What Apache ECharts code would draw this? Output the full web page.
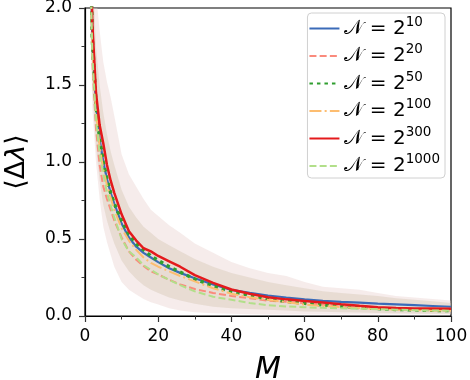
<!DOCTYPE html>
<html>
<head>
<meta charset="utf-8">
<script src="https://cdn.jsdelivr.net/npm/echarts@6/dist/echarts.min.js"></script>
<style>html,body{margin:0;padding:0;background:#fff;}#c{width:470px;height:380px;}</style>
</head>
<body>
<div id="c"></div>
<script>
// M values (x)
var M = [1, 2, 3, 4, 5, 6, 7, 8, 10, 12, 14, 16, 18, 20, 23, 26, 30, 35, 40, 45, 50, 55, 60, 65, 70, 75, 80, 85, 90, 95, 100];
// <Δλ> for each N
var n10   = [3.0, 1.80, 1.38, 1.15, 1.00, 0.89, 0.80, 0.73, 0.60, 0.51, 0.45, 0.41, 0.38, 0.35, 0.31, 0.28, 0.245, 0.205, 0.170, 0.150, 0.133, 0.120, 0.108, 0.098, 0.092, 0.087, 0.080, 0.075, 0.070, 0.065, 0.060];
var n20   = [2.9, 1.65, 1.22, 0.98, 0.84, 0.76, 0.69, 0.62, 0.51, 0.42, 0.365, 0.325, 0.29, 0.27, 0.235, 0.205, 0.175, 0.150, 0.130, 0.115, 0.100, 0.092, 0.083, 0.073, 0.063, 0.055, 0.048, 0.043, 0.040, 0.037, 0.034];
var n50   = [3.0, 1.80, 1.38, 1.15, 1.00, 0.89, 0.80, 0.73, 0.62, 0.53, 0.47, 0.43, 0.39, 0.36, 0.32, 0.285, 0.240, 0.195, 0.160, 0.135, 0.112, 0.095, 0.082, 0.072, 0.063, 0.055, 0.048, 0.043, 0.040, 0.037, 0.035];
var n100  = [2.9, 1.75, 1.33, 1.10, 0.95, 0.85, 0.77, 0.69, 0.57, 0.49, 0.43, 0.38, 0.345, 0.32, 0.29, 0.26, 0.225, 0.180, 0.145, 0.122, 0.105, 0.090, 0.075, 0.065, 0.058, 0.052, 0.046, 0.042, 0.039, 0.036, 0.034];
var n300  = [3.2, 1.90, 1.45, 1.24, 1.12, 0.98, 0.88, 0.80, 0.66, 0.55, 0.49, 0.44, 0.42, 0.39, 0.355, 0.32, 0.265, 0.215, 0.172, 0.145, 0.122, 0.108, 0.098, 0.087, 0.076, 0.066, 0.057, 0.052, 0.049, 0.048, 0.047];
var n1000 = [2.9, 1.70, 1.27, 1.05, 0.92, 0.80, 0.72, 0.64, 0.50, 0.42, 0.38, 0.33, 0.30, 0.27, 0.235, 0.200, 0.160, 0.125, 0.105, 0.085, 0.070, 0.062, 0.057, 0.053, 0.050, 0.047, 0.044, 0.041, 0.038, 0.036, 0.034];
// spread of individual runs (faint background band)
var outerLow  = [2.4, 1.35, 1.00, 0.76, 0.58, 0.48, 0.40, 0.32, 0.22, 0.17, 0.14, 0.11, 0.09, 0.075, 0.05, 0.035, 0.025, 0.018, 0.015, 0.012, 0.010, 0.010, 0.010, 0.010, 0.010, 0.010, 0.010, 0.010, 0.010, 0.010, 0.010];
var outerHigh = [3.5, 2.60, 2.10, 1.85, 1.65, 1.52, 1.42, 1.30, 1.05, 0.92, 0.84, 0.76, 0.69, 0.65, 0.59, 0.54, 0.47, 0.41, 0.35, 0.31, 0.28, 0.26, 0.22, 0.19, 0.18, 0.17, 0.15, 0.13, 0.12, 0.11, 0.10];
var innerLow  = [2.8, 1.50, 1.10, 0.88, 0.72, 0.62, 0.54, 0.47, 0.36, 0.29, 0.24, 0.20, 0.17, 0.15, 0.12, 0.10, 0.08, 0.06, 0.05, 0.045, 0.04, 0.035, 0.03, 0.028, 0.025, 0.022, 0.02, 0.018, 0.016, 0.015, 0.014];
var innerHigh = [3.3, 2.30, 1.75, 1.50, 1.32, 1.18, 1.07, 0.98, 0.82, 0.71, 0.64, 0.58, 0.54, 0.50, 0.46, 0.42, 0.37, 0.32, 0.28, 0.25, 0.22, 0.20, 0.18, 0.16, 0.15, 0.14, 0.13, 0.115, 0.105, 0.095, 0.085];

var names = ['N10', 'N20', 'N50', 'N100', 'N300', 'N1000'];
var exps  = ['10', '20', '50', '100', '300', '1000'];
var values = [n10, n20, n50, n100, n300, n1000];
var colors = ['#3b6bb8', '#fa8a7c', '#2f9e2f', '#fdbd70', '#e41a1c', '#b2df8a'];
var styles = [
  {type: 'solid', width: 2.2},
  {type: [7, 3.2], width: 2},
  {type: [3.5, 4], width: 3.5},
  {type: [12, 3.2, 2, 3.2], width: 2},
  {type: 'solid', width: 2.5},
  {type: [7, 3.2], width: 2}
];

function pairs(arr) { return M.map(function (m, i) { return [m, arr[i]]; }); }

function bandSeries(low, high, fill) {
  return {
    type: 'custom', silent: true, clip: true, z: 1,
    data: [0],
    renderItem: function (params, api) {
      var pts = [];
      for (var i = 0; i < M.length; i++) pts.push(api.coord([M[i], high[i]]));
      for (var j = M.length - 1; j >= 0; j--) pts.push(api.coord([M[j], low[j]]));
      return {type: 'polygon', shape: {points: pts}, style: {fill: fill}};
    }
  };
}

var series = [];
series.push(bandSeries(outerLow, outerHigh, 'rgba(232, 208, 205, 0.4)'));
series.push(bandSeries(innerLow, innerHigh, 'rgba(212, 198, 178, 0.42)'));

names.forEach(function (nm, k) {
  series.push({
    name: nm, type: 'line', data: pairs(values[k]), symbol: 'none', smooth: false,
    color: colors[k],
    lineStyle: Object.assign({color: colors[k]}, styles[k]),
    z: 5 + k
  });
});

var expMap = {};
names.forEach(function (n, i) { expMap[n] = exps[i]; });

var chart = echarts.init(document.getElementById('c'), null, {renderer: 'canvas'});
chart.setOption({
  animation: false,
  backgroundColor: '#fff',
  grid: {left: 85, right: 19, top: 8, bottom: 64, show: true, borderColor: '#000', borderWidth: 1.2, backgroundColor: 'transparent', outerBoundsMode: 'none', containLabel: false},
  xAxis: {
    type: 'value', min: 0, max: 100, interval: 20,
    name: 'M', nameLocation: 'middle', nameGap: 39,
    nameTextStyle: {fontFamily: 'DejaVu Sans', fontStyle: 'italic', fontSize: 30, color: '#000'},
    axisLine: {show: true, lineStyle: {color: '#000', width: 1.2}},
    axisTick: {show: true, length: 6, lineStyle: {color: '#333', width: 1.2}},
    minorTick: {show: true, splitNumber: 2, length: 3.5, lineStyle: {color: '#333', width: 1}},
    splitLine: {show: false},
    axisLabel: {fontFamily: 'DejaVu Sans', fontSize: 17, color: '#000', margin: 12}
  },
  yAxis: {
    type: 'value', min: 0, max: 2, interval: 0.5,
    name: '{b|⟨Δ}{i|λ}{b|⟩}', nameLocation: 'middle', nameGap: 55, nameRotate: 90,
    nameTextStyle: {rich: {
      b: {fontFamily: 'DejaVu Sans', fontSize: 27, color: '#000'},
      i: {fontFamily: 'DejaVu Sans', fontStyle: 'italic', fontSize: 27, color: '#000'}
    }},
    axisLine: {show: true, lineStyle: {color: '#000', width: 1.2}},
    axisTick: {show: true, length: 6, lineStyle: {color: '#333', width: 1.2}},
    minorTick: {show: true, splitNumber: 2, length: 3.5, lineStyle: {color: '#333', width: 1}},
    splitLine: {show: false},
    axisLabel: {fontFamily: 'DejaVu Sans', fontSize: 17, color: '#000', margin: 13, formatter: function (v) { return v.toFixed(1); }}
  },
  legend: {
    data: names, orient: 'vertical', right: 25, top: 13,
    backgroundColor: 'rgba(255,255,255,0.85)', borderColor: '#d0d0d0', borderWidth: 1, borderRadius: 4,
    padding: [2, 5, 2, 1], itemGap: 4, itemWidth: 30, itemHeight: 14,
    itemStyle: {opacity: 0},
    formatter: function (n) { return '{n|𝒩}{t| = 2}{s|' + expMap[n] + '}'; },
    textStyle: {
      color: '#000',
      rich: {
        n: {fontFamily: 'DejaVu Sans', fontSize: 20, color: '#000', height: 22},
        t: {fontFamily: 'DejaVu Sans', fontSize: 20, color: '#000', height: 22},
        s: {fontFamily: 'DejaVu Sans', fontSize: 13.5, color: '#000', padding: [0, 0, 13, 0]}
      }
    }
  },
  series: series
});
</script>
</body>
</html>
